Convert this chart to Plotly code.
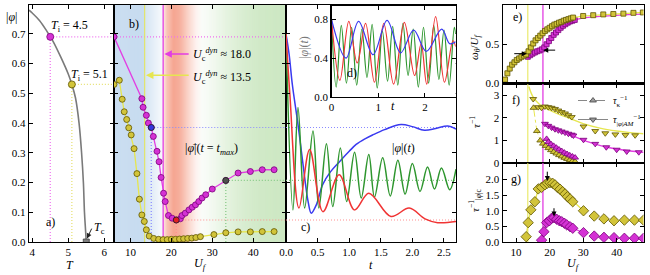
import numpy as np
import plotly.graph_objects as go

W, H = 650, 275
FONT = "Liberation Serif, DejaVu Serif, serif"


def px(x):
    return x / W


def py(y):
    return 1 - y / H


# ---------------- data ----------------
# a) |phi| vs T
a_T = [3.91, 4.0, 4.2, 4.4, 4.5, 4.6, 4.8, 5.0, 5.1, 5.2, 5.3, 5.37, 5.42, 5.45, 5.48, 5.5]
a_phi = [0.78, 0.77, 0.745, 0.71, 0.69, 0.67, 0.62, 0.565, 0.53, 0.485, 0.40, 0.30, 0.20, 0.10, 0.04, 0.0]
Ti = [4.5, 5.1]
phi_i = [0.69, 0.53]
Tc = 5.5

# b) |phi_bar|(t_max) vs U_f
b_mag_U = [6.0, 12.8, 13.1, 13.9, 14.4, 15.1, 15.6, 16.5, 17.0, 17.5, 18.1, 18.5, 19.3, 20.2,
           21.2, 22.2, 22.6, 23.4, 24.3, 25.1, 25.9, 26.7, 27.5, 28.4, 30.0, 33.3, 36.3, 39.3,
           42.2, 45.1]
b_mag_v = [0.69, 0.482, 0.453, 0.426, 0.40, 0.385, 0.355, 0.305, 0.27, 0.217, 0.164, 0.136,
           0.089, 0.08, 0.074, 0.078, 0.089, 0.097, 0.108, 0.117, 0.125, 0.136, 0.148, 0.159,
           0.178, 0.207, 0.232, 0.237, 0.243, 0.243]
b_yel_U = [6.0, 7.3, 8.0, 8.5, 9.1, 9.6, 10.2, 10.9, 11.6, 12.2, 12.8, 13.4, 13.9, 14.6, 15.7,
           16.9, 18.0, 19.0, 20.0, 21.0, 22.0, 23.0, 24.0, 25.0, 26.0, 27.1, 30.4, 33.3, 36.3,
           39.3, 42.2, 45.1]
b_yel_v = [0.53, 0.544, 0.48, 0.438, 0.412, 0.384, 0.36, 0.314, 0.23, 0.144, 0.091, 0.069,
           0.041, 0.020, 0.012, 0.009, 0.008, 0.008, 0.009, 0.009, 0.010, 0.011, 0.012, 0.013,
           0.015, 0.018, 0.025, 0.031, 0.034, 0.034, 0.035, 0.035]
hl_idx = [5, 14, 25]
hl_fill = ["#3535e0", "#e02020", "#505050"]
hl_dot = ["#8a8aff", "#ff9090", "#86c886"]
Uc_dyn = [13.5, 18.0]

# c) |phi|(t) time traces
c_blue_t = [0, 0.05, 0.1, 0.19, 0.27, 0.35, 0.40, 0.48, 0.58, 0.7, 0.85, 1.0, 1.11, 1.25, 1.37,
            1.56, 1.82, 2.0, 2.19, 2.37, 2.56, 2.69]
c_blue_v = [0.70, 0.63, 0.53, 0.395, 0.26, 0.136, 0.097, 0.125, 0.193, 0.235, 0.271, 0.305,
            0.328, 0.347, 0.36, 0.378, 0.395, 0.388, 0.376, 0.382, 0.39, 0.38]
c_red_t = [0, 0.06, 0.205, 0.374, 0.585, 0.84, 1.085, 1.31, 1.66, 1.95, 2.2, 2.4, 2.69]
c_red_v = [0.70, 0.50, 0.114, 0.311, 0.102, 0.226, 0.108, 0.164, 0.086, 0.114, 0.078, 0.065, 0.069]
c_grn_t = [0, 0.11, 0.19, 0.295, 0.427, 0.52, 0.64, 0.74, 0.86, 0.96, 1.085, 1.19, 1.31, 1.40,
           1.53, 1.65, 1.77, 1.885, 2.0, 2.12, 2.24, 2.35, 2.46, 2.59, 2.69]
c_grn_v = [0.70, 0.108, 0.452, 0.114, 0.373, 0.114, 0.33, 0.119, 0.316, 0.136, 0.302, 0.148,
           0.294, 0.151, 0.283, 0.155, 0.275, 0.161, 0.264, 0.17, 0.252, 0.178, 0.249, 0.176, 0.245]

# d) inset
d_blue_t = [0, 0.31, 0.58, 0.89, 1.19, 1.48, 1.76, 2.03, 2.36, 2.53, 2.66]
d_blue_v = [0.80, 0.40, 0.78, 0.435, 0.79, 0.455, 0.69, 0.47, 0.70, 0.55, 0.57]
d_red_t = [0, 0.18, 0.37, 0.55, 0.73, 0.92, 1.12, 1.33, 1.56, 1.78, 1.92, 2.04, 2.23, 2.42, 2.6, 2.66]
d_red_v = [0.80, 0.17, 0.78, 0.35, 0.76, 0.15, 0.76, 0.13, 0.77, 0.22, 0.55, 0.13, 0.83, 0.15, 0.58, 0.52]
d_grn_t = [0, 0.1, 0.21, 0.32, 0.43, 0.54, 0.65, 0.76, 0.87, 0.98, 1.09, 1.2, 1.31, 1.42, 1.53,
           1.64, 1.75, 1.86, 1.97, 2.08, 2.19, 2.3, 2.41, 2.52, 2.63, 2.66]
d_grn_v = [0.80, 0.10, 0.74, 0.14, 0.72, 0.12, 0.70, 0.20, 0.75, 0.09, 0.68, 0.16, 0.73, 0.12,
           0.76, 0.22, 0.70, 0.10, 0.72, 0.14, 0.74, 0.18, 0.69, 0.12, 0.72, 0.65]

# e) omega_theta / U_f
e_yel_U = [6.7, 7.4, 8.1, 8.8, 9.5, 10.2, 10.9, 11.6, 12.3, 13.0, 13.7, 14.4, 15.1, 15.8, 16.5,
           17.2, 17.9, 18.6, 19.3, 20.0, 20.7, 21.4, 22.1, 22.8, 23.5, 24.2, 24.9, 25.6, 26.3,
           27.0, 30.0, 33.0, 36.0, 39.0, 42.0, 45.0, 47.8]
e_yel_v = [0.05, 0.13, 0.19, 0.24, 0.27, 0.30, 0.32, 0.34, 0.355, 0.37, 0.41, 0.46, 0.51, 0.55,
           0.58, 0.61, 0.64, 0.67, 0.69, 0.71, 0.73, 0.75, 0.76, 0.775, 0.785, 0.80, 0.81, 0.82,
           0.83, 0.84, 0.86, 0.87, 0.88, 0.885, 0.89, 0.90, 0.905]
e_mag_U = [13.5, 14.2, 14.9, 15.6, 16.3, 17.0, 17.7, 18.4, 19.1, 19.8, 20.5, 21.2, 21.9, 22.6,
           23.3, 24.0, 24.7, 25.4, 26.1, 26.8, 27.5]
e_mag_v = [0.34, 0.36, 0.38, 0.395, 0.41, 0.42, 0.435, 0.46, 0.50, 0.54, 0.58, 0.62, 0.65, 0.68,
           0.71, 0.735, 0.755, 0.775, 0.79, 0.80, 0.81]
e_mag_fit_U = [27.5, 30, 33, 36, 39, 42, 45, 48]
e_mag_fit_v = [0.81, 0.835, 0.85, 0.86, 0.87, 0.875, 0.88, 0.885]

# f) tau^-1
f_yel_dn_U = [15.1, 16.6, 17.6, 18.6, 19.6, 20.6, 21.6, 22.6, 23.6, 24.6, 25.6, 26.6, 30.1, 33.6,
              36.6, 39.6, 42.6, 45.5]
f_yel_dn_v = [2.84, 2.48, 2.45, 2.51, 2.48, 2.45, 2.40, 2.33, 2.26, 2.20, 2.12, 2.04, 1.62, 1.42,
              1.32, 1.27, 1.24, 1.23]
f_yel_fit_U = [13.8, 15, 17, 20, 23, 26, 30, 35, 40, 44, 48]
f_yel_fit_v = [3.4, 2.95, 2.6, 2.35, 2.15, 1.98, 1.75, 1.55, 1.42, 1.35, 1.3]
f_mag_dn_U = [18.6, 19.6, 20.6, 21.6, 22.6, 23.6, 24.6, 25.6, 26.6, 27.1, 30.1, 33.6, 36.9, 40.0,
              43.0, 46.6]
f_mag_dn_v = [1.74, 1.65, 1.57, 1.50, 1.45, 1.40, 1.35, 1.30, 1.26, 1.22, 1.03, 0.85, 0.70, 0.59,
              0.51, 0.48]
f_mag_fit_U = [18.6, 21, 23, 25, 27, 30, 33, 36, 40, 44, 48]
f_mag_fit_v = [1.8, 1.6, 1.45, 1.32, 1.2, 1.02, 0.86, 0.74, 0.62, 0.53, 0.47]
f_yel_up_U = [15.2, 16.2, 17.2, 18.0, 18.8, 19.6, 20.4, 21.2, 22.0, 22.8, 23.6, 24.4, 25.2, 26.0,
              26.8, 27.6]
f_yel_up_v = [2.45, 1.42, 1.0, 0.86, 0.76, 0.66, 0.57, 0.49, 0.42, 0.35, 0.29, 0.23, 0.18, 0.13,
              0.09, 0.06]
f_mag_up_U = [19.1, 19.6, 20.4, 21.2, 22.0, 22.8, 23.6, 24.4, 25.2, 26.0, 26.8, 27.6]
f_mag_up_v = [1.07, 0.93, 0.84, 0.76, 0.68, 0.60, 0.53, 0.46, 0.40, 0.34, 0.29, 0.24]

# g) tau_|phi|c^-1
g_yel_U = [13.0, 13.6, 14.4, 15.6, 16.6, 17.6, 18.6, 19.3, 20.1, 20.9, 21.6, 22.3, 23.1, 23.9,
           24.6, 25.3, 26.1, 26.9, 30.1, 33.3, 36.2, 39.2, 42.3, 45.3, 48.0]
g_yel_v = [0.17, 0.62, 1.03, 1.29, 1.70, 1.75, 1.83, 1.88, 1.90, 1.88, 1.83, 1.75, 1.69, 1.61,
           1.54, 1.45, 1.38, 1.29, 1.0, 0.83, 0.74, 0.68, 0.70, 0.70, 0.70]
g_yel_nline = 19
g_mag_U = [17.6, 18.3, 19.1, 19.9, 20.6, 21.3, 22.1, 22.9, 23.6, 24.4, 25.1, 26.1, 26.9, 30.1,
           33.3, 36.2, 39.2, 42.3, 45.3, 48.0]
g_mag_v = [0.06, 0.33, 0.62, 0.68, 0.76, 0.78, 0.73, 0.68, 0.65, 0.60, 0.55, 0.49, 0.44, 0.30,
           0.19, 0.15, 0.14, 0.12, 0.12, 0.12]
g_mag_nline = 14

# ---------------- style ----------------
MAG = "#e23ee2"
MAG_F = "#d432d4"
MAG_E = "#7a007a"
MAG_DOT = "#f070f0"
YEL = "#e6e650"
YEL_F = "#d2c43a"
YEL_E = "#5e5400"
YEL_DOT = "#e6e070"
BLUE = "#3a3af0"
RED = "#f03434"
GRN = "#2e962e"
DOT = "1px,2px"

A_XR = [3.91, 6.27]
B_XR = [6.0, 48.0]
C_XR = [0.0, 2.69]
D_XR = [0.0, 2.66]
Y_ABC = [0.0, 0.797]

fig = go.Figure()


def sc(x, y, n, **kw):
    kw.setdefault('showlegend', False)
    kw.setdefault('hoverinfo', 'skip')
    s = '' if n == 1 else str(n)
    fig.add_trace(go.Scatter(x=x, y=y, xaxis='x' + s, yaxis='y' + s, **kw))


def mk(sym, fill, edge, size=6):
    return dict(symbol=sym, color=fill, size=size, line=dict(color=edge, width=0.8))


# ---- panel a ----
for T, p, col in zip(Ti, phi_i, [MAG_DOT, YEL_DOT]):
    sc([T, T], [0, p], 1, mode='lines', line=dict(color=col, width=1.2, dash=DOT))
    sc([T, A_XR[1]], [p, p], 1, mode='lines', line=dict(color=col, width=1.2, dash=DOT))
sc(a_T, a_phi, 1, mode='lines', line=dict(color='#7a7a7a', width=1.6, shape='spline'))
sc([Tc], [0.0], 1, mode='markers', marker=mk('square', '#808080', '#404040', 6))
sc([Ti[0]], [phi_i[0]], 1, mode='markers', marker=mk('circle', MAG_F, MAG_E, 7))
sc([Ti[1]], [phi_i[1]], 1, mode='markers', marker=mk('circle', YEL_F, YEL_E, 7))

# ---- panel b ----
sc(B_XR, [phi_i[0], phi_i[0]], 2, mode='lines', line=dict(color=MAG_DOT, width=1.2, dash=DOT))
for i, col in zip(hl_idx, hl_dot):
    u, v = b_mag_U[i], b_mag_v[i]
    sc([u, u], [0, v], 2, mode='lines', line=dict(color=col, width=1.2, dash=DOT))
    sc([u, B_XR[1]], [v, v], 2, mode='lines', line=dict(color=col, width=1.2, dash=DOT))
    sc(C_XR, [v, v], 3, mode='lines', line=dict(color=col, width=1.2, dash=DOT))
for u, col, w in zip(Uc_dyn, [YEL, MAG], [1.0, 1.3]):
    for n, yr in [(2, Y_ABC), (5, [0, 1]), (6, [0, 3.53]), (7, [0, 2.53])]:
        sc([u, u], yr, n, mode='lines', line=dict(color=col, width=w))
sc(b_yel_U, b_yel_v, 2, mode='lines+markers', line=dict(color=YEL, width=1.3),
   marker=mk('circle', YEL_F, YEL_E, 6))
sc(b_mag_U, b_mag_v, 2, mode='lines+markers', line=dict(color=MAG, width=1.3),
   marker=mk('circle', MAG_F, MAG_E, 6))
sc([b_mag_U[i] for i in hl_idx], [b_mag_v[i] for i in hl_idx], 2, mode='markers',
   marker=dict(symbol='circle', size=6, color=hl_fill, line=dict(color='#202020', width=0.8)))

# ---- panel c ----
sc(c_blue_t, c_blue_v, 3, mode='lines', line=dict(color=BLUE, width=1.5, shape='spline'))
sc(c_grn_t, c_grn_v, 3, mode='lines', line=dict(color=GRN, width=1.5, shape='spline'))
sc(c_red_t, c_red_v, 3, mode='lines', line=dict(color=RED, width=1.5, shape='spline'))

# ---- panel d ----
sc(d_grn_t, d_grn_v, 4, mode='lines', line=dict(color=GRN, width=1.2, shape='spline'))
sc(d_red_t, d_red_v, 4, mode='lines', line=dict(color=RED, width=1.2, shape='spline'))
sc(d_blue_t, d_blue_v, 4, mode='lines', line=dict(color=BLUE, width=1.2, shape='spline'))

# ---- panel e ----
sc(e_mag_fit_U, e_mag_fit_v, 5, mode='lines', line=dict(color=MAG, width=1.2))
sc(e_mag_U, e_mag_v, 5, mode='lines+markers', line=dict(color=MAG, width=1.2),
   marker=mk('square', MAG_F, MAG_E, 5))
sc(e_yel_U, e_yel_v, 5, mode='lines+markers', line=dict(color=YEL, width=1.2),
   marker=mk('square', YEL_F, YEL_E, 5))

# ---- panel f ----
sc(f_yel_fit_U, f_yel_fit_v, 6, mode='lines', line=dict(color=YEL, width=1.4, shape='spline'))
sc(f_mag_fit_U, f_mag_fit_v, 6, mode='lines', line=dict(color=MAG, width=1.4, shape='spline'))
sc(f_yel_up_U, f_yel_up_v, 6, mode='lines+markers', line=dict(color=YEL, width=1.0, dash='dashdot'),
   marker=mk('triangle-up', YEL_F, YEL_E, 6))
sc(f_mag_up_U, f_mag_up_v, 6, mode='lines+markers', line=dict(color=MAG, width=1.0, dash='dashdot'),
   marker=mk('triangle-up', MAG_F, MAG_E, 6))
sc(f_yel_dn_U, f_yel_dn_v, 6, mode='markers', marker=mk('triangle-down', YEL_F, YEL_E, 6))
sc(f_mag_dn_U, f_mag_dn_v, 6, mode='markers', marker=mk('triangle-down', MAG_F, MAG_E, 6))
# legend entries
sc([None], [None], 6, mode='lines+markers', showlegend=True,
   name='<i>τ</i><sub>κ</sub><sup>−1</sup>',
   line=dict(color='#888888', width=1, dash='dashdot'), marker=mk('triangle-up', '#9a9a9a', '#444444', 6))
sc([None], [None], 6, mode='lines+markers', showlegend=True,
   name='<i>τ</i><sub>|<i>φ</i>|<i>AM</i></sub><sup>−1</sup>',
   line=dict(color='#888888', width=1), marker=mk('triangle-down', '#9a9a9a', '#444444', 6))

# ---- panel g ----
sc(g_yel_U[:g_yel_nline], g_yel_v[:g_yel_nline], 7, mode='lines', line=dict(color=YEL, width=1.3))
sc(g_mag_U[:g_mag_nline], g_mag_v[:g_mag_nline], 7, mode='lines', line=dict(color=MAG, width=1.3))
sc(g_yel_U, g_yel_v, 7, mode='markers', marker=mk('diamond', YEL_F, YEL_E, 8))
sc(g_mag_U, g_mag_v, 7, mode='markers', marker=mk('diamond', MAG_F, MAG_E, 8))

# ---------------- background gradient in b ----------------
blue_x, blue_w = [6, 13.5, 13.6, 18.0, 18.05], [1, 1, 0.75, 0.12, 0]
red_x, red_w = [17.9, 18.0, 19.0, 20.5, 22.0, 24.0, 26.0, 27.5], [0, 0.25, 0.7, 1, 0.9, 0.5, 0.15, 0]
grn_x, grn_w = [26, 30, 35, 40, 48], [0, 0.25, 0.6, 0.9, 1]
BC, RC, GC = (200, 220, 240), (246, 166, 146), (205, 232, 195)
shapes = []
step = 0.25
u = B_XR[0]
while u < B_XR[1] - 1e-9:
    m = u + step / 2
    wb = np.interp(m, blue_x, blue_w, left=1, right=0)
    wr = np.interp(m, red_x, red_w, left=0, right=0)
    wg = np.interp(m, grn_x, grn_w, left=0, right=1)
    rgb = [int(np.clip(255 - wb * (255 - BC[k]) - wr * (255 - RC[k]) - wg * (255 - GC[k]), 0, 255))
           for k in range(3)]
    shapes.append(dict(type='rect', xref='x2', yref='y2 domain', x0=u, x1=min(u + step * 1.6, B_XR[1]),
                       y0=0, y1=1, fillcolor='rgb(%d,%d,%d)' % tuple(rgb), line=dict(width=0),
                       layer='below'))
    u += step


# ---------------- axes ----------------
def axis(domain, rng, anchor, **kw):
    d = dict(domain=domain, range=rng, anchor=anchor, showline=True, linecolor='black',
             linewidth=1.2, mirror='ticks', ticks='inside', ticklen=4, tickcolor='black',
             tickwidth=1, showgrid=False, zeroline=False, automargin=False,
             tickfont=dict(size=11, family=FONT, color='black'))
    d.update(kw)
    return d


YD_ABC = [py(242), py(5)]
XD_EFG = [px(502.7), px(643.5)]
fig.update_layout(
    xaxis=axis([px(29), px(114)], A_XR, 'y', tickvals=[4, 5, 6]),
    yaxis=axis(YD_ABC, Y_ABC, 'x', dtick=0.1, tickformat='.1f'),
    xaxis2=axis([px(114), px(286)], B_XR, 'y2', tickvals=[10, 20, 30, 40]),
    yaxis2=axis(YD_ABC, Y_ABC, 'x2', dtick=0.1, showticklabels=False),
    xaxis3=axis([px(286), px(456)], C_XR, 'y3', dtick=0.5, tickformat='.1f'),
    yaxis3=axis(YD_ABC, Y_ABC, 'x3', dtick=0.1, showticklabels=False),
    xaxis4=axis([px(331.5), px(455.7)], D_XR, 'y4', dtick=1, tickformat='d'),
    yaxis4=axis([py(96.7), py(6)], [0, 0.94], 'x4', dtick=0.4, tickformat='.1f'),
    xaxis5=axis(XD_EFG, B_XR, 'y5', tickvals=[10, 20, 30, 40], showticklabels=False),
    yaxis5=axis([py(83.5), py(5)], [0, 1.0], 'x5', dtick=0.5, tickformat='.1f'),
    xaxis6=axis(XD_EFG, B_XR, 'y6', tickvals=[10, 20, 30, 40], showticklabels=False),
    yaxis6=axis([py(163), py(83.5)], [0, 3.53], 'x6', dtick=1),
    xaxis7=axis(XD_EFG, B_XR, 'y7', tickvals=[10, 20, 30, 40]),
    yaxis7=axis([py(242), py(163)], [0, 2.53], 'x7', tickvals=[0, 0.5, 1.0, 1.5, 2.0], tickformat='.1f'),
)

# ---------------- annotations ----------------
ann = []


def txt(x, y, s, size=12, angle=0, xanchor='center', color='black'):
    ann.append(dict(x=px(x), y=py(y), xref='paper', yref='paper', text=s, showarrow=False,
                    font=dict(size=size, family=FONT, color=color), textangle=angle,
                    xanchor=xanchor, yanchor='middle'))


def arrow(x, y, ax_, ay_, n, color, width=1.0, head=2, size=1.0):
    s = '' if n == 1 else str(n)
    ann.append(dict(x=x, y=y, ax=ax_, ay=ay_, xref='x' + s, yref='y' + s, axref='x' + s,
                    ayref='y' + s, text='', showarrow=True, arrowhead=head, arrowsize=size,
                    arrowwidth=width, arrowcolor=color))


txt(11, 17, '|<i>φ</i>|')
txt(70, 265, '<i>T</i>')
txt(200, 264, '<i>U<sub>f</sub></i>')
txt(371, 265, '<i>t</i>')
txt(573, 264, '<i>U<sub>f</sub></i>')
txt(50, 222, 'a)')
txt(134, 24, 'b)')
txt(305, 227, 'c)')
txt(352, 73, 'd)')
txt(517, 17, 'e)')
txt(516, 100, 'f)')
txt(516, 179, 'g)')
txt(49, 26, '<i>T</i><sub>i</sub> = 4.5', xanchor='left')
txt(69, 75, '<i>T</i><sub>i</sub> = 5.1', xanchor='left')
txt(99, 228, '<i>T</i><sub>c</sub>')
arrow(Tc + 0.02, 0.012, Tc + 0.17, 0.05, 1, '#222222', width=1.0)
txt(191, 55, '<i>U</i><sub>c</sub><sup><i>dyn</i></sup> ≈ 18.0', xanchor='left')
txt(191, 77, '<i>U</i><sub>c</sub><sup><i>dyn</i></sup> ≈ 13.5', xanchor='left')
arrow(Uc_dyn[1] + 0.3, 0.632, 24.6, 0.632, 2, MAG, width=1.5)
arrow(Uc_dyn[0] + 0.3, 0.561, 24.6, 0.561, 2, YEL, width=1.5)
txt(211, 149, '|<i>φ̄</i>|(<i>t</i> = <i>t</i><sub><i>max</i></sub>)')
txt(404, 148, '|<i>φ</i>|(<i>t</i>)')
txt(304, 48, '|<i>φ</i>|(<i>t</i>)', angle=-90, color='#7a7a7a')
txt(393, 106, '<i>t</i>')
txt(475, 47, '<i>ω<sub>θ</sub></i>/<i>U<sub>f</sub></i>', size=11, angle=-90)
txt(475, 122, '<i>τ</i><sup>−1</sup>', size=11, angle=-90)
txt(475, 201, '<i>τ</i><sup>−1</sup><sub>|<i>φ</i>|c</sub>', size=11, angle=-90)
# arrows in e and g
arrow(13.2, 0.38, 9.0, 0.38, 5, 'black', width=1.0)
arrow(18.1, 0.425, 22.1, 0.425, 5, 'black', width=1.0)
arrow(19.3, 1.95, 19.3, 2.3, 7, 'black', width=1.0)
arrow(21.3, 0.82, 21.3, 1.13, 7, 'black', width=1.0)

fig.update_layout(
    width=W, height=H, margin=dict(l=0, r=0, t=0, b=0, autoexpand=False), autosize=False,
    paper_bgcolor='white', plot_bgcolor='white',
    font=dict(family=FONT, size=11, color='black'),
    shapes=shapes, annotations=ann, showlegend=True,
    legend=dict(x=px(647), y=py(86), xanchor='right', yanchor='top', bgcolor='rgba(0,0,0,0)',
                font=dict(size=10, family=FONT), itemwidth=30, tracegroupgap=0,
                itemclick=False),
)

fig.write_html("out.html", config={'displayModeBar': False, 'staticPlot': True},
               post_script="document.body.style.margin='0';document.body.style.overflow='hidden';")
